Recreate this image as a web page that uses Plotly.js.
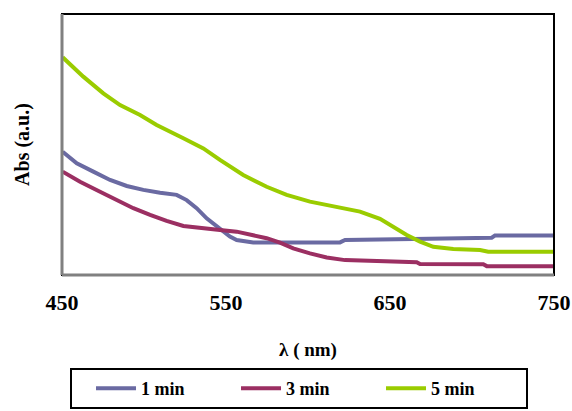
<!DOCTYPE html>
<html>
<head>
<meta charset="utf-8">
<script src="https://cdn.plot.ly/plotly-3.0.1.min.js"></script>
<style>html,body{margin:0;padding:0;background:#fff;}#chart{width:572px;height:411px;}</style>
</head>
<body>
<div id="chart"></div>
<script>
// Wavelength (nm) and absorbance (a.u.)
const wl1 = [450.4, 459.0, 469.1, 479.3, 489.5, 499.6, 509.8, 519.9, 526.0, 532.1, 538.2, 544.3, 552.4, 556.5, 566.6, 619.5, 622.6, 664.0, 712.0, 714.0, 749.6];
const abs1 = [0.472, 0.428, 0.396, 0.364, 0.341, 0.326, 0.315, 0.307, 0.287, 0.256, 0.217, 0.185, 0.147, 0.134, 0.125, 0.125, 0.134, 0.138, 0.143, 0.151, 0.151];

const wl3 = [450.4, 461.0, 473.2, 483.4, 493.5, 503.7, 513.8, 524.0, 534.1, 546.3, 556.5, 566.6, 574.8, 582.9, 591.0, 601.2, 611.4, 622.6, 639.8, 666.3, 668.3, 706.9, 709.0, 749.6];
const abs3 = [0.396, 0.357, 0.319, 0.287, 0.256, 0.230, 0.207, 0.188, 0.179, 0.172, 0.166, 0.153, 0.141, 0.124, 0.102, 0.083, 0.067, 0.057, 0.054, 0.049, 0.042, 0.041, 0.034, 0.034];

const wl5 = [450.4, 463.0, 475.2, 485.4, 497.6, 507.7, 524.0, 536.2, 546.3, 560.5, 574.8, 587.0, 601.2, 615.4, 625.6, 631.7, 643.9, 652.0, 660.2, 668.3, 676.4, 688.6, 704.9, 709.9, 749.6];
const abs5 = [0.834, 0.760, 0.696, 0.651, 0.613, 0.575, 0.524, 0.485, 0.441, 0.383, 0.338, 0.307, 0.281, 0.264, 0.252, 0.243, 0.215, 0.185, 0.153, 0.128, 0.108, 0.100, 0.096, 0.089, 0.089];

const seriesNames = ["1 min", "3 min", "5 min"];
const xTicks = [450, 550, 650, 750];

const fontFam = "Liberation Serif, Times New Roman, serif";
const colors = ["#6A6AA2", "#9B2F62", "#9ACC00"];

const traces = [
  {x: wl1, y: abs1, name: seriesNames[0]},
  {x: wl3, y: abs3, name: seriesNames[1]},
  {x: wl5, y: abs5, name: seriesNames[2]}
].map((t, i) => Object.assign(t, {
  type: "scatter", mode: "lines",
  line: {color: colors[i], width: 4}
}));

const layout = {
  width: 572, height: 411,
  margin: {l: 62, r: 18, t: 14, b: 136, autoexpand: false},
  paper_bgcolor: "#ffffff", plot_bgcolor: "#ffffff",
  font: {family: fontFam, color: "#000", weight: "bold"},
  showlegend: true,
  xaxis: {
    range: [450, 750], tickvals: xTicks, ticktext: xTicks.map(String),
    ticks: "", showgrid: false, zeroline: false,
    showline: false,
    tickfont: {family: fontFam, size: 22, color: "#000", weight: "bold"},
    ticklabelstandoff: 12,
    title: {text: "λ ( nm)", font: {family: fontFam, size: 19, color: "#000", weight: "bold"}, standoff: 28},
    automargin: false
  },
  yaxis: {
    range: [0, 1], showticklabels: false, ticks: "", showgrid: false, zeroline: false,
    showline: false,
    title: {text: "Abs (a.u.)", font: {family: fontFam, size: 20, color: "#000", weight: "bold"}, standoff: 26},
    automargin: false
  },
  shapes: [
    {type: "rect", xref: "paper", yref: "paper", x0: 0, x1: 1, y0: 0, y1: 1, line: {color: "#000", width: 2}},
    {type: "line", xref: "paper", yref: "paper", x0: 0, x1: 0, y0: 0, y1: 1, line: {color: "#808080", width: 3}},
    {type: "line", xref: "paper", yref: "paper", x0: 0, x1: 1, y0: 0, y1: 0, line: {color: "#808080", width: 3}}
  ],
  legend: {
    orientation: "h", xref: "container", yref: "container",
    x: 0.1224, xanchor: "left", y: 0.1046, yanchor: "top",
    bordercolor: "#000", borderwidth: 2, bgcolor: "#fff",
    font: {family: fontFam, size: 18, color: "#000", weight: "bold"},
    title: {text: "\u00a0\u00a0", side: "left", font: {family: fontFam, size: 18}},
    entrywidth: 90, entrywidthmode: "pixels", itemwidth: 40,
    tracegroupgap: 0
  }
};

Plotly.newPlot("chart", traces, layout, {displayModeBar: false, staticPlot: true});
</script>
</body>
</html>
